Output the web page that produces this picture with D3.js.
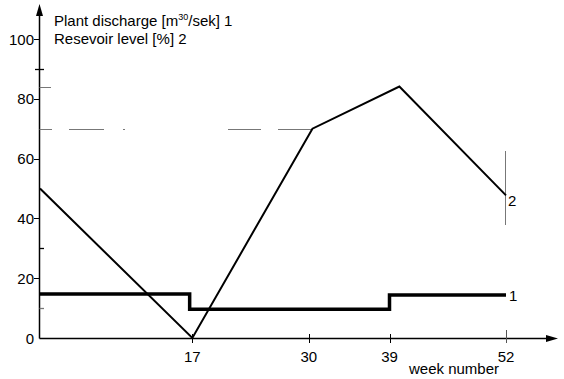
<!DOCTYPE html>
<html><head><meta charset="utf-8">
<script src="https://cdn.jsdelivr.net/npm/d3@7"></script>
<style>body{margin:0;background:#fff}svg{display:block}text{font-family:"Liberation Sans",Arial,sans-serif;fill:#000}</style>
</head><body>
<script>
// Data
const dischargeWeeks = [0, 16.7, 16.7, 39, 39, 52];
const dischargeValues = [14.7, 14.7, 9.6, 9.6, 14.4, 14.4];
const levelWeeks = [0, 17, 30.4, 40.1, 52];
const levelValues = [50, 0, 70, 84.1, 47.7];
const xTickValues = [17, 30, 39, 52];
const yTickValues = [0, 20, 40, 60, 80, 100];
const yMinorTicks = [10, 30, 90];

const W = 564, H = 379;
const FS = 15;
const svg = d3.select("body").append("svg").attr("width", W).attr("height", H);
const x = d3.scaleLinear().domain([0, 52]).range([40, 506]);
const y = d3.scaleLinear().domain([0, 100]).range([338, 39]);
const x0 = 39.5, y0 = 338.5;

// axes lines
svg.append("line").attr("x1", x0).attr("x2", x0).attr("y1", y0).attr("y2", 12).attr("stroke", "#000").attr("stroke-width", 1.5);
svg.append("path").attr("d", `M${x0},4 L${x0-3.5},16 L${x0+3.5},16 Z`).attr("fill", "#000");
svg.append("line").attr("x1", x0).attr("x2", 550).attr("y1", y0).attr("y2", y0).attr("stroke", "#000").attr("stroke-width", 1.5);
svg.append("path").attr("d", `M558,${y0} L546,${y0-3.5} L546,${y0+3.5} Z`).attr("fill", "#000");

// y ticks
const yg = svg.append("g");
yTickValues.forEach(v => {
  if (v > 0) yg.append("line").attr("x1", 34).attr("x2", x0).attr("y1", Math.round(y(v))+0.5).attr("y2", Math.round(y(v))+0.5).attr("stroke", "#000");
  yg.append("text").attr("x", 34).attr("y", y(v) + 5.5).attr("text-anchor", "end").attr("font-size", FS).text(v);
});
yMinorTicks.forEach(v => {
  yg.append("line").attr("x1", v === 90 ? 35 : x0).attr("x2", 44).attr("y1", Math.round(y(v))+0.5).attr("y2", Math.round(y(v))+0.5)
    .attr("stroke", v === 10 ? "#777" : "#000").attr("stroke-width", 1.3);
});

// x ticks
xTickValues.forEach(v => {
  svg.append("line").attr("x1", Math.round(x(v))+0.5).attr("x2", Math.round(x(v))+0.5)
    .attr("y1", v === 52 ? 330 : 334).attr("y2", 343).attr("stroke", v === 52 ? "#555" : "#000");
  svg.append("text").attr("x", x(v)).attr("y", 362).attr("text-anchor", "middle").attr("font-size", FS).text(v);
});
svg.append("text").attr("x", 409).attr("y", 374).attr("font-size", FS).text("week number");

// reference marks (gray)
const gray = "#777";
svg.append("line").attr("x1", x0).attr("x2", 51).attr("y1", Math.round(y(84.1))+0.5).attr("y2", Math.round(y(84.1))+0.5).attr("stroke", gray);
const dashSegs = [[x0, 52], [69, 104], [123, 125], [228, 261], [278, 311]];
dashSegs.forEach(s => svg.append("line").attr("x1", s[0]).attr("x2", s[1]).attr("y1", Math.round(y(70))+0.5).attr("y2", Math.round(y(70))+0.5).attr("stroke", gray));
svg.append("line").attr("x1", 505.5).attr("x2", 505.5).attr("y1", 151).attr("y2", 225).attr("stroke", gray);

// series
const line = d3.line().x(d => x(d[0])).y(d => y(d[1]));
svg.append("path").datum(levelWeeks.map((w, i) => [w, levelValues[i]]))
  .attr("d", line).attr("fill", "none").attr("stroke", "#000").attr("stroke-width", 2);
svg.append("path").datum(dischargeWeeks.map((w, i) => [w, dischargeValues[i]]))
  .attr("d", line).attr("fill", "none").attr("stroke", "#000").attr("stroke-width", 3.5);

svg.append("text").attr("x", 509).attr("y", y(14.4) + 6).attr("font-size", FS).text("1");
svg.append("text").attr("x", 508).attr("y", y(47.7) + 11).attr("font-size", FS).text("2");

// legend
const t1 = svg.append("text").attr("x", 54).attr("y", 26).attr("font-size", FS);
t1.append("tspan").text("Plant discharge [m");
t1.append("tspan").attr("font-size", 9).attr("dy", -6).text("30");
t1.append("tspan").attr("dy", 6).text("/sek] 1");
svg.append("text").attr("x", 54).attr("y", 44).attr("font-size", FS).text("Resevoir level [%] 2");
</script>
</body></html>
